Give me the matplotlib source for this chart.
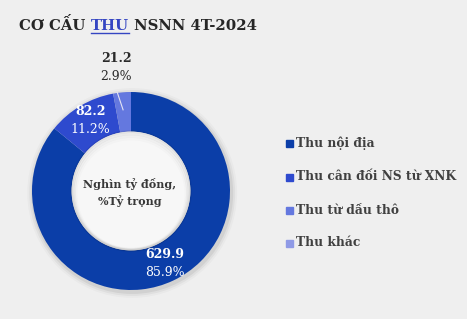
import matplotlib.pyplot as plt

# du lieu
categories = ["Thu nội địa", "Thu cân đối NS từ XNK", "Thu từ dầu thô", "Thu khác"]
values = [629.9, 82.2, 21.2, 0.0]
shares = ["85.9%", "11.2%", "2.9%", ""]
colors = ["#0b3ea8", "#2e4ace", "#6478df", "#8f9ae6"]

W, H = 467, 319
fig = plt.figure(figsize=(W / 100, H / 100), dpi=100)
fig.patch.set_facecolor("#efefef")
plt.rcParams["font.family"] = ["DejaVu Serif"]

# donut
cx, cy, R = 131, 191, 99
box = 115
ax = fig.add_axes([(cx - box) / W, (H - cy - box) / H, 2 * box / W, 2 * box / H])
ax.set_facecolor("none")

# bong mo ben ngoai
for k, a in enumerate([0.06, 0.04, 0.025]):
    ax.add_patch(plt.Circle((0.012, -0.02), 1.0 + 0.02 * (k + 1), color="#000000",
                            alpha=a, lw=0, zorder=1))

wedges, _ = ax.pie(values, colors=colors, startangle=90, counterclock=False,
                   radius=1.0, wedgeprops=dict(width=0.4, linewidth=0, zorder=2))
inner = 0.6
ax.add_patch(plt.Circle((0, 0), inner, color="#f7f7f7", lw=0, zorder=3))
for k, a in enumerate([0.07, 0.05, 0.03, 0.015]):
    ax.add_patch(plt.Circle((0, -0.01 * k), inner - 0.015 * k, fill=False,
                            ec="#000000", alpha=a, lw=2.0, zorder=4))

# pie() dat lai gioi han truc, nen dat sau
lim = box / R
ax.set_xlim(-lim, lim)
ax.set_ylim(-lim, lim)
ax.set_aspect("equal")
ax.axis("off")

ax.text(-0.01, -0.015, "Nghìn tỷ đồng,\n%Tỷ trọng", ha="center", va="center",
        fontsize=8, color="#383838", fontweight="bold", linespacing=1.45, zorder=5)

# nhan so lieu, vi tri theo ban kinh
label_xy = [(0.34, -0.73), (-0.41, 0.71), (-0.15, 1.25)]
for i, (x, y) in enumerate(label_xy):
    c = "white" if i < 2 else "#2a2a2a"
    ax.text(x, y + 0.09, f"{values[i]:.1f}", ha="center", va="center",
            fontsize=9, fontweight="bold", color=c, zorder=6)
    ax.text(x, y - 0.09, shares[i], ha="center", va="center",
            fontsize=9, color=c, zorder=6)

# duong dan nhan nho
ax.plot([-0.14, -0.08], [1.0, 0.82], color="#e4e4f4", lw=0.8, zorder=6)

# legend
leg_y = [143, 177, 210, 243]
for i, name in enumerate(categories):
    fig.patches.append(plt.Rectangle((286 / W, (H - leg_y[i] - 3.5) / H), 7 / W, 7 / H,
                                     transform=fig.transFigure, color=colors[i]))
    fig.text(296 / W, (H - leg_y[i]) / H, name, ha="left", va="center",
             fontsize=8.8, fontweight="bold", color="#404040")

# tieu de
fig.canvas.draw()
r = fig.canvas.get_renderer()
x0 = 19 / W
yb = (H - 30) / H
parts = [("CƠ CẤU ", "#262626"), ("THU", "#3445c2"), (" NSNN 4T-2024", "#262626")]
for txt, col in parts:
    t = fig.text(x0, yb, txt, ha="left", va="baseline", fontsize=10.7,
                 fontweight="bold", color=col)
    bb = t.get_window_extent(renderer=r)
    if txt == "THU":
        fig.lines.append(plt.Line2D([bb.x0 / W, bb.x1 / W], [yb - 3 / H, yb - 3 / H],
                                    transform=fig.transFigure, color=col, lw=1.0))
    x0 = bb.x1 / W

fig.savefig("out.png", dpi=100, facecolor=fig.get_facecolor())
